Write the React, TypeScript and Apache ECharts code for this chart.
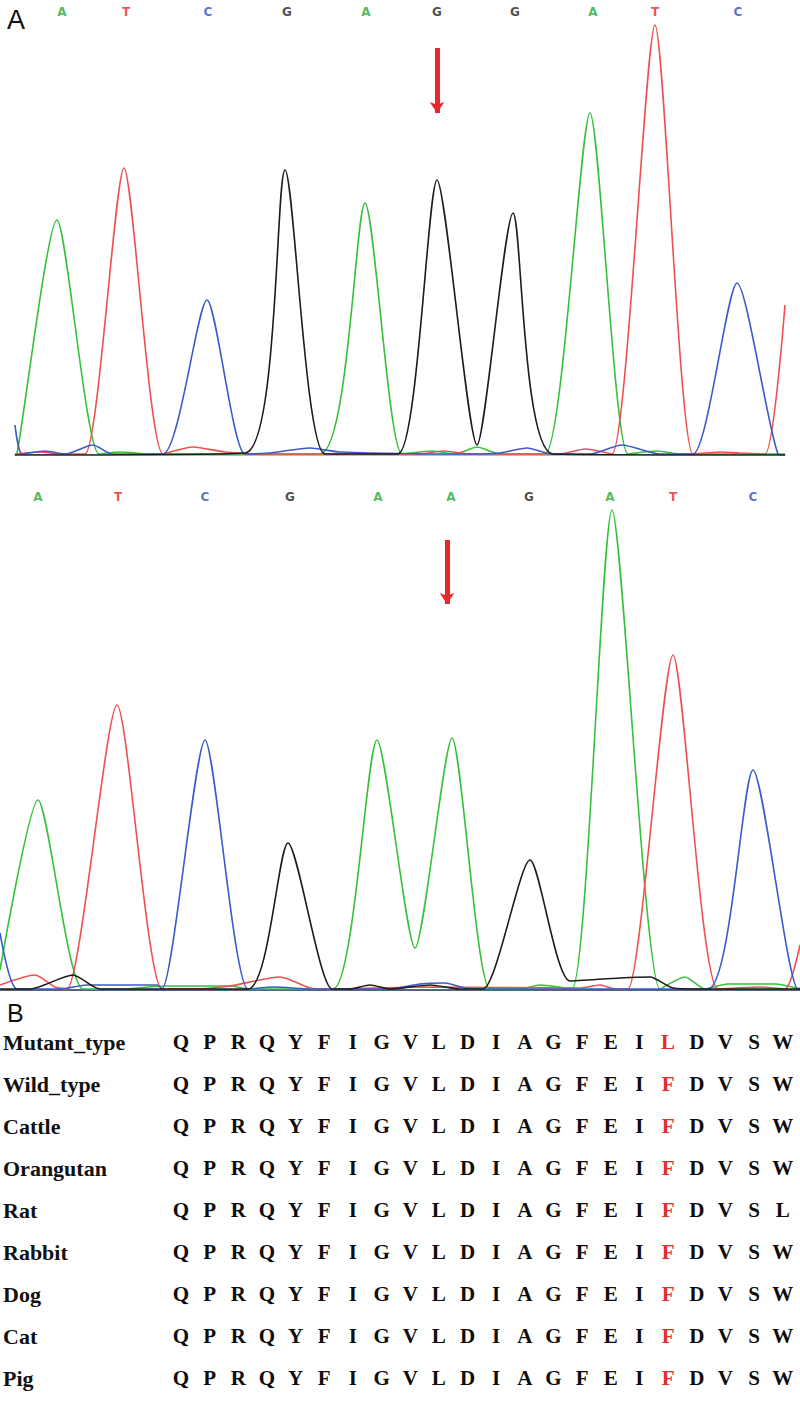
import React, { useEffect, useRef } from "react";
import * as echarts from "echarts";

// ---------- Panel A: chromatogram traces (x = scan position, y = signal height) ----------
const topGreenA = [[15,0],[17,1],[57,235],[99,1],[120,3],[150,1],[320,1],[365,252],[402,1],[432,4],[455,1],[477,8],[500,1],[545,1],[590,342],[628,1],[657,4],[680,1],[785,1]];
const topRedT = [[15,1],[40,3],[60,1],[85,1],[124,287],[163,1],[193,8],[225,3],[260,1],[420,1],[443,4],[470,1],[560,1],[585,6],[612,1],[655,430],[693,1],[720,3],[740,2],[765,1],[785,150]];
const topBlueC = [[15,30],[22,1],[45,4],[65,1],[93,10],[112,1],[163,1],[207,155],[245,1],[270,2],[310,7],[340,3],[470,1],[500,2],[527,7],[552,1],[590,1],[622,10],[660,1],[693,1],[737,172],[778,1],[785,0]];
const topBlackG = [[15,0],[245,2],[285,285],[325,1],[398,1],[437,275],[477,10],[513,242],[553,1],[785,0]];

const botGreenA = [[0,20],[38,190],[83,1],[120,1],[165,4],[230,4],[250,1],[333,1],[377,250],[415,42],[452,252],[490,1],[520,1],[540,5],[572,1],[612,480],[660,1],[685,13],[705,1],[727,6],[775,6],[800,1]];
const botRedT = [[0,5],[35,15],[55,3],[67,1],[117,285],[162,1],[190,1],[230,4],[280,13],[310,2],[330,1],[420,3],[580,2],[600,5],[615,1],[628,1],[673,335],[718,1],[760,3],[785,1],[800,45]];
const botBlueC = [[0,57],[17,1],[60,1],[87,5],[157,5],[162,1],[205,250],[248,1],[275,3],[310,1],[390,1],[420,6],[445,7],[470,1],[600,1],[708,1],[753,220],[798,1],[800,2]];
const botBlackG = [[0,1],[30,1],[73,15],[100,1],[248,1],[288,147],[332,1],[350,1],[370,5],[390,1],[430,5],[460,1],[483,1],[530,130],[570,9],[620,12],[650,13],[673,2],[700,1],[800,1]];

// base calls
const topCalls = "ATCGAGGATC";
const topCallX = [62, 126, 208, 287, 366, 437, 515, 593, 655, 738];
const botCalls = "ATCGAAGATC";
const botCallX = [38, 118, 205, 290, 378, 451, 529, 610, 673, 753];

// mutation arrows [x, yFrom, yTo]
const topArrow = [437, 407, 342];
const botArrow = [447, 450, 386];

// ---------- Panel B: alignment ----------
const species = ["Mutant_type", "Wild_type", "Cattle", "Orangutan", "Rat", "Rabbit", "Dog", "Cat", "Pig"];
const sequences = [
  "QPRQYFIGVLDIAGFEILDVSW",
  "QPRQYFIGVLDIAGFEIFDVSW",
  "QPRQYFIGVLDIAGFEIFDVSW",
  "QPRQYFIGVLDIAGFEIFDVSW",
  "QPRQYFIGVLDIAGFEIFDVSL",
  "QPRQYFIGVLDIAGFEIFDVSW",
  "QPRQYFIGVLDIAGFEIFDVSW",
  "QPRQYFIGVLDIAGFEIFDVSW",
  "QPRQYFIGVLDIAGFEIFDVSW",
];
const highlightCol = 17;

const TRACE = { A: "#36c03c", T: "#ef4f4f", C: "#3a5bcc", G: "#1c1c1c" };
const CALL = { A: "#22a83a", T: "#e82424", C: "#2f4fb8", G: "#222222" };

export default function App() {
  const ref = useRef<HTMLDivElement>(null);
  useEffect(() => {
    document.body.style.margin = "0";
    const chart = echarts.init(ref.current!, undefined, { renderer: "svg" });

    const trace = (data: number[][], color: string, gi: number) => ({
      type: "line",
      xAxisIndex: gi,
      yAxisIndex: gi,
      data,
      showSymbol: false,
      smooth: 0.22,
      silent: true,
      lineStyle: { color, width: 1.6 },
    });

    const calls = (letters: string, xs: number[], yv: number, gi: number, arrow: number[]) => ({
      type: "scatter",
      xAxisIndex: gi,
      yAxisIndex: gi,
      symbolSize: 1,
      silent: true,
      itemStyle: { color: "rgba(0,0,0,0)" },
      data: xs.map((x, i) => ({
        name: letters[i],
        value: [x, yv],
        label: { color: (CALL as any)[letters[i]] },
      })),
      label: {
        show: true,
        position: "inside",
        formatter: "{b}",
        fontFamily: "DejaVu Sans",
        fontWeight: "bold",
        fontSize: 12,
        textBorderWidth: 0,
      },
      markLine: {
        silent: true,
        symbol: ["none", "arrow"],
        symbolSize: 11,
        label: { show: false },
        lineStyle: { color: "#e8282b", width: 5, type: "solid" },
        emphasis: { disabled: true },
        data: [[{ coord: [arrow[0], arrow[1]] }, { coord: [arrow[0], arrow[2]] }]],
      },
    });

    const alignData: any[] = [];
    sequences.forEach((seq, r) => {
      for (let c = 0; c < seq.length; c++) {
        alignData.push({
          name: seq[c],
          value: [c, r],
          label: { color: c === highlightCol ? "#e2302b" : "#0d0d0d" },
        });
      }
    });

    const colCats = sequences[0].split("").map((_, i) => String(i));

    chart.setOption({
      animation: false,
      backgroundColor: "#ffffff",
      grid: [
        { left: 15, top: 0, width: 770, height: 455 },
        { left: 0, top: 480, width: 800, height: 510 },
        { left: 165.65, top: 1021, width: 631.4, height: 378 },
      ],
      xAxis: [
        { type: "value", gridIndex: 0, min: 15, max: 785, axisLine: { show: true, lineStyle: { color: "#a3a3a3", width: 1.5 } }, axisTick: { show: false }, axisLabel: { show: false }, splitLine: { show: false } },
        { type: "value", gridIndex: 1, min: 0, max: 800, axisLine: { show: true, lineStyle: { color: "#56637a", width: 2 } }, axisTick: { show: false }, axisLabel: { show: false }, splitLine: { show: false } },
        { type: "category", gridIndex: 2, data: colCats, show: false },
      ],
      yAxis: [
        { type: "value", gridIndex: 0, min: 0, max: 455, show: false },
        { type: "value", gridIndex: 1, min: 0, max: 510, show: false },
        {
          type: "category",
          gridIndex: 2,
          data: species,
          inverse: true,
          axisLine: { show: false },
          axisTick: { show: false },
          splitLine: { show: false },
          axisLabel: {
            align: "left",
            margin: 163.65,
            fontFamily: "Liberation Serif",
            fontWeight: "bold",
            fontSize: 22,
            color: "#111111",
          },
        },
      ],
      graphic: [
        { type: "text", left: 7, top: 6, style: { text: "A", fontFamily: "Liberation Sans", fontSize: 27, fill: "#111" } },
        { type: "text", left: 7, top: 1000, style: { text: "B", fontFamily: "Liberation Sans", fontSize: 25, fill: "#111" } },
      ],
      series: [
        trace(topGreenA, TRACE.A, 0),
        trace(topRedT, TRACE.T, 0),
        trace(topBlueC, TRACE.C, 0),
        trace(topBlackG, TRACE.G, 0),
        calls(topCalls, topCallX, 443, 0, topArrow),
        trace(botGreenA, TRACE.A, 1),
        trace(botRedT, TRACE.T, 1),
        trace(botBlueC, TRACE.C, 1),
        trace(botBlackG, TRACE.G, 1),
        calls(botCalls, botCallX, 493, 1, botArrow),
        {
          type: "scatter",
          xAxisIndex: 2,
          yAxisIndex: 2,
          symbolSize: 1,
          silent: true,
          itemStyle: { color: "rgba(0,0,0,0)" },
          data: alignData,
          label: {
            show: true,
            position: "inside",
            formatter: "{b}",
            fontFamily: "Liberation Serif",
            fontWeight: "bold",
            fontSize: 21,
            color: "#0d0d0d",
            textBorderWidth: 0,
            opacity: 1,
          },
        },
      ],
    });
    return () => chart.dispose();
  }, []);
  return <div ref={ref} style={{ position: "absolute", left: 0, top: 0, width: 800, height: 1403 }} />;
}
